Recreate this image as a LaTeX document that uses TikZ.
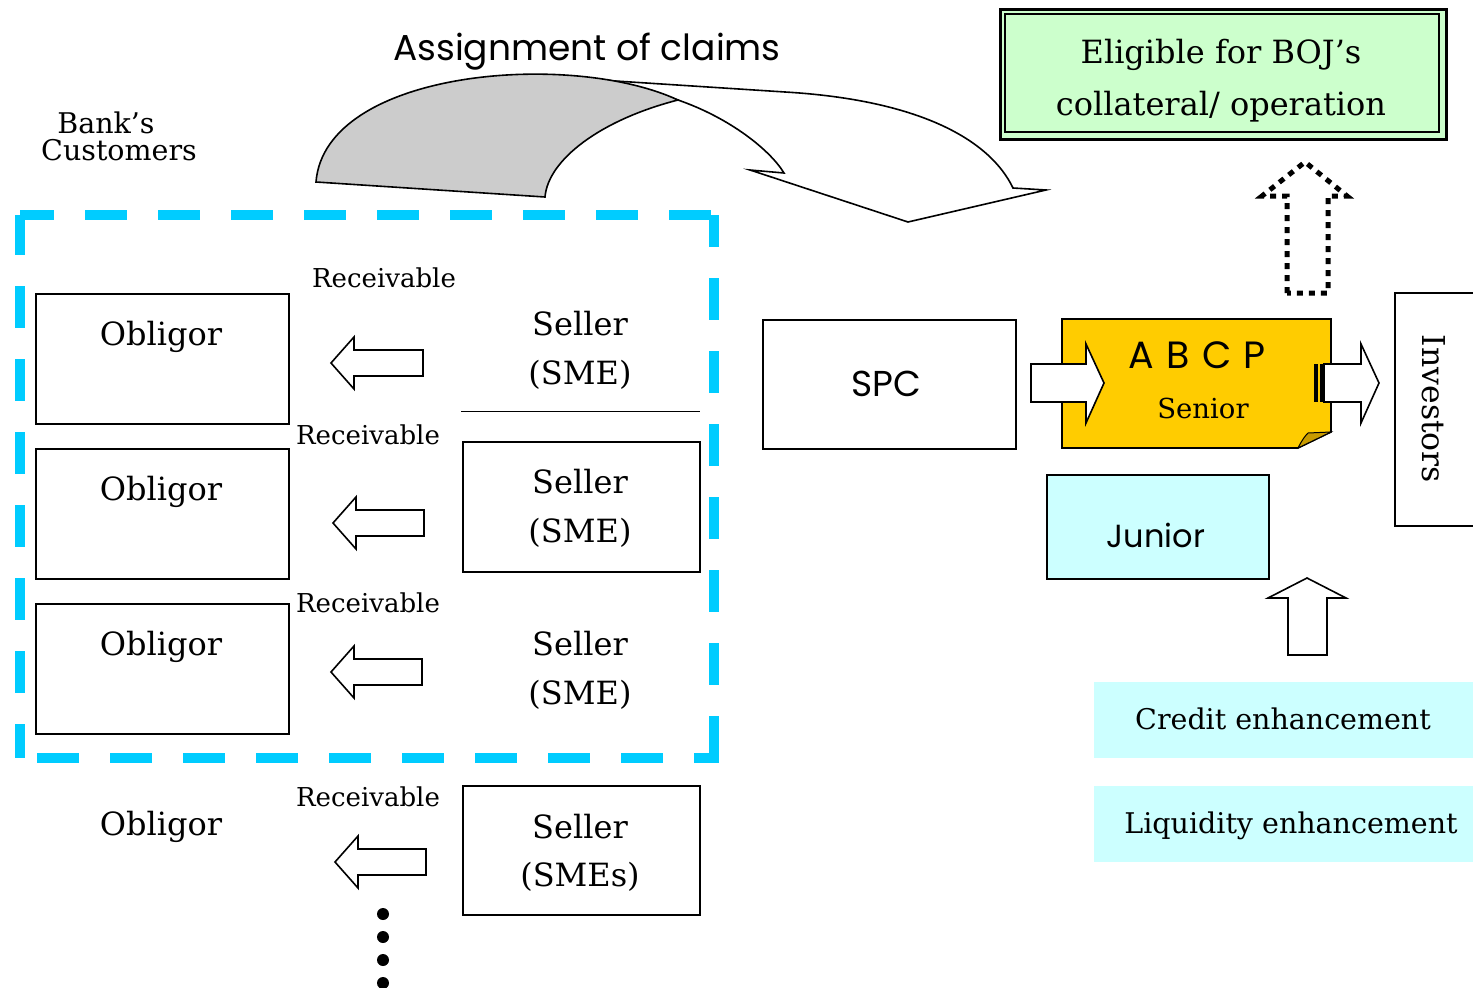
\documentclass[tikz,border=0pt]{standalone}
\usepackage{fontspec}
\setmainfont{DejaVu Serif}
\newfontfamily\gothic{Poppins}
\definecolor{dashcyan}{HTML}{00CCFF}
\definecolor{abcpyellow}{HTML}{FFCC00}
\definecolor{foldgold}{HTML}{C89B00}
\definecolor{paleblue}{HTML}{CCFFFF}
\definecolor{palegreen}{HTML}{CCFFCC}
\definecolor{arcgrey}{HTML}{CCCCCC}
\newcommand\lblock[3]{% tipx, tailx, y
  \draw[blockarrow] (#1,#3) -- ({#1+23},{#3-26}) -- ({#1+23},{#3-13}) -- (#2,{#3-13}) -- (#2,{#3+13}) -- ({#1+23},{#3+13}) -- ({#1+23},{#3+26}) -- cycle;}
\newcommand\rblock[3]{% tailx, tipx, y
  \draw[blockarrow] (#1,{#3-19}) -- ({#2-18},{#3-19}) -- ({#2-18},{#3-39}) -- (#2,#3) -- ({#2-18},{#3+40}) -- ({#2-18},{#3+19}) -- (#1,{#3+19}) -- cycle;}
\begin{document}
\begin{tikzpicture}[x=1pt,y=-1pt,
  box/.style={draw, line width=1.6pt, inner sep=0pt},
  blockarrow/.style={draw, fill=white, line width=1.6pt, line join=miter},
  txt/.style={anchor=base, inner sep=0pt},
  big/.style={txt, font=\fontsize{32}{36}\selectfont},
  recv/.style={txt, font=\fontsize{26}{28}\selectfont},
  mid/.style={txt, font=\fontsize{28.5}{32}\selectfont},
  sans/.style={txt, font=\gothic\fontsize{32}{36}\selectfont},
  cyandash/.style={dashcyan, line width=10pt, dash pattern=on 42pt off 31pt}]
\useasboundingbox (0,0) rectangle (1473,988);

% curved arrow "Assignment of claims"
\node[txt, font=\gothic\fontsize{36}{40}\selectfont] (assign) at (587,60) {Assignment of claims};
\draw[line width=1.6pt, fill=white, line join=miter] (600,80) -- (785,92) .. controls (920,100) and (990,140) .. (1013,188) -- (1046,190) -- (908,222) -- (750,170) -- (784,173) .. controls (770,150) and (730,118) .. (678,100) -- cycle;
\draw[line width=1.6pt, fill=arcgrey] (316,182) .. controls (325,70) and (570,50) .. (678,100) .. controls (600,120) and (548,160) .. (545,197) -- cycle;

% bank's customers
\node[txt, font=\fontsize{28.5}{28}\selectfont] (bank) at (106,133) {Bank’s};
\node[txt, font=\fontsize{28.5}{28}\selectfont] (cust) at (119,160) {Customers};

% dashed cyan frame
\draw[cyandash, dash phase=8pt] (20,215) -- (714,215);
\draw[cyandash, dash phase=2pt] (20,215) -- (20,758);
\draw[cyandash, dash phase=10pt] (714,215) -- (714,763);
\draw[cyandash, dash phase=56pt] (20,758) -- (719,758);

% obligor boxes
\node[box, minimum width=253pt, minimum height=130pt, anchor=north west] (ob1) at (35,293) {};
\node[box, minimum width=253pt, minimum height=130pt, anchor=north west] (ob2) at (35,448) {};
\node[box, minimum width=253pt, minimum height=130pt, anchor=north west] (ob3) at (35,603) {};
\node[big] (ob1t) at (161,345) {Obligor};
\node[big] (ob2t) at (161,500) {Obligor};
\node[big] (ob3t) at (161,655) {Obligor};
\node[big] (ob4t) at (161,835) {Obligor};

% receivable labels
\node[recv] (r1) at (384,287) {Receivable};
\node[recv] (r2) at (368,444) {Receivable};
\node[recv] (r3) at (368,612) {Receivable};
\node[recv] (r4) at (368,806) {Receivable};

% left block arrows
\lblock{331}{423}{363}
\lblock{333}{424}{523}
\lblock{331}{422}{672}
\lblock{335}{426}{862}

% sellers
\node[big] (s1a) at (580,335) {Seller};
\node[big] (s1b) at (580,384) {(SME)};
\draw[line width=1pt] (461,411) -- (700,411);
\node[box, minimum width=237pt, minimum height=130pt, anchor=north west] (sel2) at (462,441) {};
\node[big] (s2a) at (580,493) {Seller};
\node[big] (s2b) at (580,542) {(SME)};
\node[big] (s3a) at (580,655) {Seller};
\node[big] (s3b) at (580,704) {(SME)};
\node[box, minimum width=237pt, minimum height=129pt, anchor=north west] (sel4) at (462,785) {};
\node[big] (s4a) at (580,838) {Seller};
\node[big] (s4b) at (580,886) {(SMEs)};

% dots
\foreach \yy in {914,937,960,983} \fill (383,\yy) circle (6pt);

% SPC
\node[box, minimum width=253pt, minimum height=129pt, anchor=north west] (spc) at (762,319) {};
\node[sans, font=\gothic\fontsize{36}{40}\selectfont] (spct) at (886,396) {SPC};

% ABCP
\draw[line width=1.6pt, fill=abcpyellow] (1062,319) -- (1331,319) -- (1331,432) -- (1298,448) -- (1062,448) -- cycle;
\draw[line width=1pt, fill=foldgold] (1298,448) .. controls (1302,440) and (1305,436) .. (1308,433) -- (1331,432) -- cycle;
\node[sans, font=\gothic\fontsize{38}{40}\selectfont] (abcp) at (1197,368) {A\hspace{0.33em}B\hspace{0.33em}C\hspace{0.33em}P};
\node[txt, font=\fontsize{27.5}{30}\selectfont] (senior) at (1203,418) {Senior};

\rblock{1031}{1104}{383}
\rblock{1324}{1379}{383}
\fill (1314,364) rectangle (1318,402);
\fill (1320,364) rectangle (1323,402);

% investors
\draw[line width=1.6pt] (1476,293) -- (1395,293) -- (1395,526) -- (1476,526);
\node[font=\fontsize{31.5}{34}\selectfont, rotate=-90, inner sep=0pt] (inv) at (1434,409) {Investors};

% junior
\node[box, fill=paleblue, minimum width=222pt, minimum height=104pt, anchor=north west] (jun) at (1046,474) {};
\node[sans] (junt) at (1156,547) {Junior};
\draw[blockarrow] (1307,578) -- (1346,598) -- (1327,598) -- (1327,655) -- (1288,655) -- (1288,598) -- (1268,598) -- cycle;

% enhancements
\fill[paleblue] (1094,682) rectangle (1473,758);
\fill[paleblue] (1094,786) rectangle (1473,862);
\node[mid] (cred) at (1283,729) {Credit enhancement};
\node[mid] (liq) at (1291,833) {Liquidity enhancement};

% eligible
\node[draw, line width=3pt, fill=palegreen, minimum width=446pt, minimum height=130pt, anchor=north west, inner sep=0pt] (elig) at (999,8) {};
\draw[line width=1.4pt] (1005,14) rectangle (1439,132);
\node[big] (el1) at (1221,63) {Eligible for BOJ’s};
\node[big] (el2) at (1221,115) {collateral/ operation};

% dotted arrow
\draw[line width=5pt, dash pattern=on 6pt off 6pt] (1287,293) -- (1287,196) -- (1262,196) -- (1305,162) -- (1347,196) -- (1328,196) -- (1328,293) -- cycle;
\end{tikzpicture}
\end{document}
